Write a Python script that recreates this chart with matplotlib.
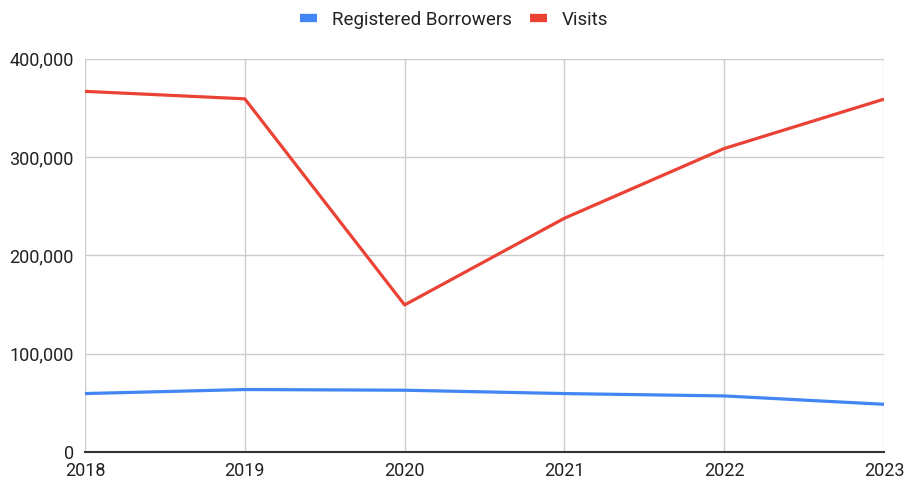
import matplotlib.pyplot as plt
from matplotlib.lines import Line2D
from matplotlib.ticker import FuncFormatter

plt.rcParams['font.family'] = ['Roboto', 'DejaVu Sans']

# data
years = [2018, 2019, 2020, 2021, 2022, 2023]
borrowers = [59400, 63500, 62800, 59400, 57000, 48500]
visits = [366600, 359000, 149500, 237600, 308500, 358700]

blue = '#4285F4'
red = '#EA4335'

fig = plt.figure(figsize=(9.08, 4.8), dpi=100)
ax = fig.add_axes([85 / 908, 28 / 480, 799 / 908, 393.5 / 480])

ax.plot(years, borrowers, color=blue, lw=2.3, solid_capstyle='butt')
ax.plot(years, visits, color=red, lw=2.3, solid_capstyle='butt')

ax.set_xlim(2018, 2023)
ax.set_ylim(0, 400000)
ax.set_xticks(years)
ax.set_yticks([0, 100000, 200000, 300000, 400000])
ax.yaxis.set_major_formatter(FuncFormatter(lambda v, p: f'{int(v):,}'))

ax.grid(True, color='#cccccc', lw=1)
ax.set_axisbelow(True)
for s in ['top', 'left', 'right']:
    ax.spines[s].set_visible(False)
ax.spines['bottom'].set_color('#333333')
ax.spines['bottom'].set_linewidth(1.5)
ax.spines['bottom'].set_zorder(3)

ax.tick_params(axis='both', length=0, labelsize=13, colors='#222222')
ax.tick_params(axis='y', pad=8)
ax.tick_params(axis='x', pad=7)

handles = [Line2D([], [], color=blue, lw=6, solid_capstyle='butt'),
           Line2D([], [], color=red, lw=6, solid_capstyle='butt')]
fig.legend(handles, ['Registered Borrowers', 'Visits'], loc='center',
           bbox_to_anchor=(0.5, 1 - 20 / 480), ncol=2, frameon=False,
           fontsize=13.5, handlelength=0.9, handletextpad=0.8,
           columnspacing=1.0, labelcolor='#222222')

fig.savefig('out.png', dpi=100)
